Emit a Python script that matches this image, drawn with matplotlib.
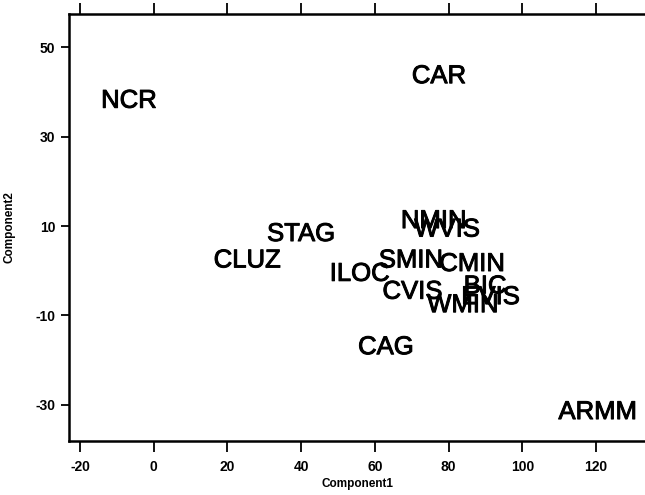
import numpy as np
import matplotlib
matplotlib.use("Agg")
import matplotlib.pyplot as plt
import matplotlib.patheffects as pe
from matplotlib.transforms import offset_copy

# region labels and principal component scores
regions = ["NCR", "CAR", "STAG", "CLUZ", "NMIN", "WVIS", "SMIN", "CMIN",
           "ILOC", "CVIS", "BIC", "EVIS", "WMIN", "CAG", "ARMM"]
comp1 = [-6.7, 77.4, 40.0, 25.4, 76.0, 79.6, 69.8, 86.4,
         55.9, 70.2, 89.9, 91.4, 83.9, 63.0, 120.5]
comp2 = [38.5, 44.0, 8.7, 2.8, 11.6, 9.7, 2.8, 2.0,
         -0.2, -4.2, -3.0, -5.4, -7.2, -16.6, -31.1]

xticks = [-20, 0, 20, 40, 60, 80, 100, 120]
yticks = [-30, -10, 10, 30, 50]

plt.rcParams['font.family'] = ['Liberation Sans', 'DejaVu Sans']

fig = plt.figure(figsize=(6.45, 4.95), dpi=100)
ax = fig.add_axes([0.1074, 0.1097, 0.8926, 0.862])

lab_size = 18.5
cap = 0.716 * lab_size
trans = offset_copy(ax.transData, fig=fig, x=0, y=-cap / 2, units='points')
thick = [pe.withStroke(linewidth=0.7, foreground='black')]
for name, x, y in zip(regions, comp1, comp2):
    ax.text(x, y, name, transform=trans, ha='center', va='baseline',
            fontsize=lab_size, color='black', path_effects=thick)

ax.set_xlim(-22.9, 133.3)
ax.set_ylim(-38.0, 57.4)

ax.set_xticks(xticks)
ax.set_yticks(yticks)
ax.set_xticklabels([str(t) for t in xticks], fontsize=10, fontweight='bold')
ax.set_yticklabels([str(t) for t in yticks], fontsize=10, fontweight='bold')

ax.spines['right'].set_visible(False)
for s in ['left', 'bottom', 'top']:
    ax.spines[s].set_linewidth(1.8)

ax.tick_params(axis='x', which='both', direction='out', length=8, width=1.3,
               top=True, labeltop=False, pad=6)
ax.tick_params(axis='y', direction='out', length=6, width=1.3, pad=4)

ax.set_xlabel("Component1", fontsize=8.5, fontweight='bold', labelpad=3)
ax.set_ylabel("Component2", fontsize=8.5, fontweight='bold', labelpad=14)

fig.savefig("out.png", dpi=100)
